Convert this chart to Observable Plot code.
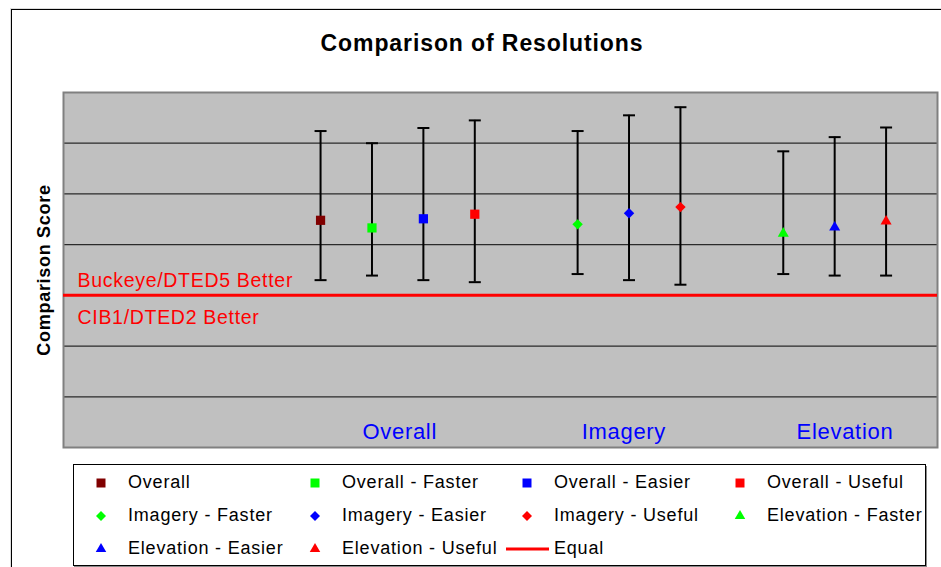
<!DOCTYPE html>
<html>
<head>
<meta charset="utf-8">
<script src="https://cdn.jsdelivr.net/npm/d3@7"></script>
<script src="https://cdn.jsdelivr.net/npm/@observablehq/plot@0.6"></script>
<style>
  html, body { margin: 0; padding: 0; background: #fff; }
  #wrap { position: relative; width: 941px; height: 567px; overflow: hidden; font-family: "Liberation Sans", Arial, sans-serif; }
  #frame { position: absolute; left: 11px; top: 9px; width: 1000px; height: 700px; border-left: 1.5px solid #000; border-top: 1.5px solid #000; box-shadow: -1px -1px 0 #ddd; }
  #title { position: absolute; left: 482px; top: 28px; transform: translateX(-50%); font-weight: bold; font-size: 23px; letter-spacing: 0.9px; white-space: nowrap; color: #000; line-height: 30px; }
  #chart { position: absolute; left: 0; top: 0; }
  #legend { position: absolute; left: 73px; top: 464px; width: 851px; height: 100px; border: 1px solid #000; background: #fff; box-shadow: 1px 2px 0 #8a8a8a; }
  .lt { position: absolute; font-size: 18px; letter-spacing: 0.8px; white-space: nowrap; color: #000; line-height: 20px; }
  .lm { position: absolute; }
</style>
</head>
<body>
<div id="wrap">
  <div id="frame"></div>
  <div id="chart"></div>
  <div id="title">Comparison of Resolutions</div>
  <div id="legend"></div>
</div>
<script>
// ---- data ----
const series = ["Overall", "Overall - Faster", "Overall - Easier", "Overall - Useful",
  "Imagery - Faster", "Imagery - Easier", "Imagery - Useful",
  "Elevation - Faster", "Elevation - Easier", "Elevation - Useful"];
const groups = ["Overall", "Overall", "Overall", "Overall",
  "Imagery", "Imagery", "Imagery",
  "Elevation", "Elevation", "Elevation"];
const xValues = [5, 6, 7, 8, 10, 11, 12, 14, 15, 16];
const means = [1.48, 1.33, 1.51, 1.60, 1.40, 1.62, 1.74, 1.22, 1.34, 1.46];
const upper = [3.24, 3.00, 3.30, 3.45, 3.24, 3.55, 3.71, 2.84, 3.12, 3.31];
const lower = [0.30, 0.39, 0.30, 0.26, 0.42, 0.30, 0.21, 0.42, 0.39, 0.39];
const groupNames = ["Overall", "Imagery", "Elevation"];
const groupLabelX = [6.54, 10.9, 15.2];
const betterLabels = ["Buckeye/DTED5 Better", "CIB1/DTED2 Better"];
const gridValues = [-2, -1, 1, 2, 3];
const yDomain = [-3, 4];
const xDomain = [0, 17];
const equalLabel = "Equal";
const yLabel = "Comparison Score";

// ---- styles ----
const seriesColors = ["#800000", "#00ff00", "#0000ff", "#ff0000",
  "#00ff00", "#0000ff", "#ff0000", "#00ff00", "#0000ff", "#ff0000"];
const groupSymbols = {Overall: "square", Imagery: "diamond2", Elevation: "triangle"};
const groupR = {Overall: 5.2, Imagery: 4.7, Elevation: 4.1};

const data = series.map((s, i) => ({series: s, group: groups[i], x: xValues[i], mean: means[i], hi: upper[i], lo: lower[i]}));
const labelData = groupNames.map((g, i) => ({name: g, x: groupLabelX[i]}));

const cap = {draw(ctx, size) { const w = 6; ctx.moveTo(-w, 0); ctx.lineTo(w, 0); }};

const chart = Plot.plot({
  width: 941,
  height: 455,
  marginLeft: 63,
  marginRight: 4,
  marginTop: 92,
  marginBottom: 8,
  style: {fontFamily: "'Liberation Sans', Arial, sans-serif", background: "transparent", overflow: "visible", letterSpacing: "0.7px"},
  x: {domain: xDomain, axis: null},
  y: {domain: yDomain, axis: null},
  color: {domain: series, range: seriesColors},
  marks: [
    Plot.frame({fill: "#c0c0c0", stroke: "none"}),
    Plot.ruleY(gridValues, {stroke: "#2a2a2a", strokeWidth: 1.2}),
    Plot.frame({stroke: "#808080", strokeWidth: 2}),
    Plot.ruleY([0], {stroke: "#ff0000", strokeWidth: 3}),
    Plot.text([betterLabels[0]], {text: d => d, y: 0, frameAnchor: "left", dx: 14, dy: -8, textAnchor: "start", lineAnchor: "bottom", fill: "#ff0000", fontSize: 19.5}),
    Plot.text([betterLabels[1]], {text: d => d, y: 0, frameAnchor: "left", dx: 14, dy: 29, textAnchor: "start", lineAnchor: "bottom", fill: "#ff0000", fontSize: 19.5}),
    Plot.text(labelData, {x: "x", y: yDomain[0], text: "name", dy: -9, lineAnchor: "bottom", fill: "#0000ff", fontSize: 22}),
    Plot.ruleX(data, {x: "x", y1: "lo", y2: "hi", stroke: "#000", strokeWidth: 2}),
    Plot.dot(data, {x: "x", y: "hi", symbol: cap, r: 6, stroke: "#000", fill: "none", strokeWidth: 2}),
    Plot.dot(data, {x: "x", y: "lo", symbol: cap, r: 6, stroke: "#000", fill: "none", strokeWidth: 2}),
    ...groupNames.map(g => Plot.dot(data.filter(d => d.group === g), {x: "x", y: "mean", fill: "series", symbol: () => groupSymbols[g], r: groupR[g], stroke: "none"})),
    Plot.text([yLabel], {text: d => d, frameAnchor: "left", dx: -19, rotate: -90, textAnchor: "middle", lineAnchor: "middle", fontWeight: "bold", fontSize: 18, fill: "#000"})
  ]
});
document.getElementById("chart").appendChild(chart);

// ---- legend ----
const legend = document.getElementById("legend");
const colX = [101, 315, 527, 740];
const rowY = [481.5, 514.5, 547.5];
const legendSymbolSize = {Overall: 81, Imagery: 64, Elevation: 48};
const d3sym = {Overall: d3.symbolSquare, Imagery: d3.symbolDiamond2, Elevation: d3.symbolTriangle};
const items = series.map((s, i) => ({label: s, color: seriesColors[i], group: groups[i]}));
items.push({label: equalLabel, color: "#ff0000", group: null});
const L = 74, T = 465;
items.forEach((it, i) => {
  const cx = colX[i % 4], cy = rowY[Math.floor(i / 4)];
  const svg = document.createElementNS("http://www.w3.org/2000/svg", "svg");
  svg.setAttribute("class", "lm");
  if (it.group) {
    svg.setAttribute("width", 20); svg.setAttribute("height", 20);
    svg.style.left = (cx - 10 - L) + "px";
    svg.style.top = (cy + 1.5 - 10 - T) + "px";
    const p = document.createElementNS("http://www.w3.org/2000/svg", "path");
    p.setAttribute("d", d3.symbol(d3sym[it.group], legendSymbolSize[it.group])());
    p.setAttribute("transform", "translate(10,10)");
    p.setAttribute("fill", it.color);
    svg.appendChild(p);
  } else {
    svg.setAttribute("width", 44); svg.setAttribute("height", 6);
    svg.style.left = (506 - L) + "px";
    svg.style.top = (cy + 1.5 - 3 - T) + "px";
    const ln = document.createElementNS("http://www.w3.org/2000/svg", "line");
    ln.setAttribute("x1", 0); ln.setAttribute("x2", 43); ln.setAttribute("y1", 3); ln.setAttribute("y2", 3);
    ln.setAttribute("stroke", it.color); ln.setAttribute("stroke-width", 3);
    svg.appendChild(ln);
  }
  legend.appendChild(svg);
  const t = document.createElement("div");
  t.className = "lt";
  t.textContent = it.label;
  t.style.left = (cx + 27 - L) + "px";
  t.style.top = (cy - 10 - T) + "px";
  legend.appendChild(t);
});
</script>
</body>
</html>
